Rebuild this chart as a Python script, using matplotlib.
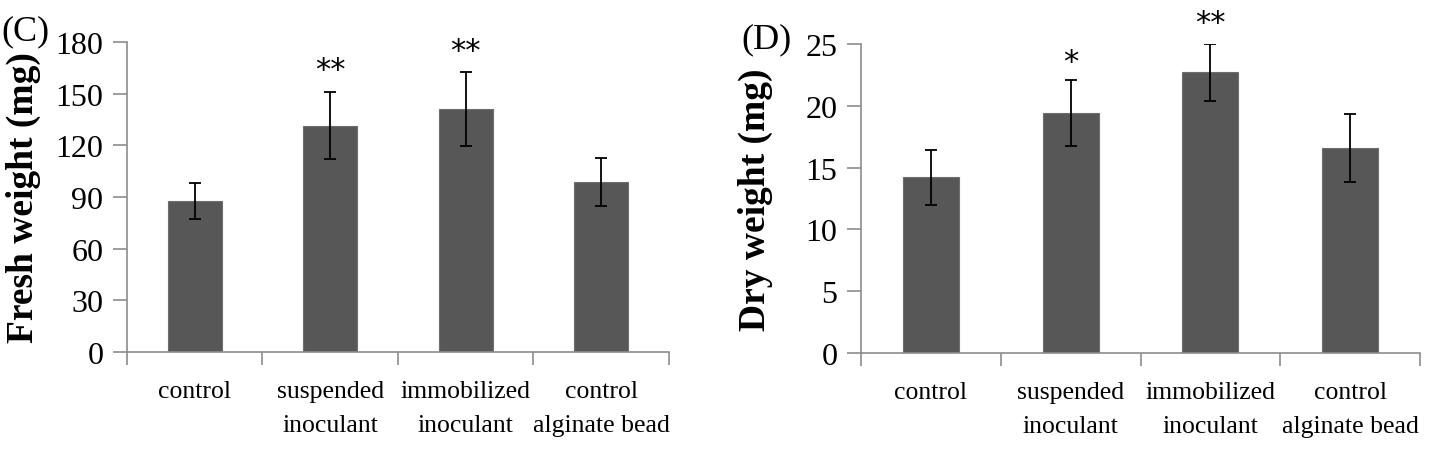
import matplotlib
matplotlib.use("Agg")
import matplotlib.pyplot as plt
import numpy as np

plt.rcParams['font.family'] = ['Liberation Serif', 'DejaVu Serif']

# treatments (same for both panels)
categories = ['control', 'suspended\ninoculant', 'immobilized\ninoculant',
              'control\nalginate bead']

# (C) fresh weight, mg
fresh_mean = [87.5, 131.5, 141.0, 98.5]
fresh_err = [10.5, 19.5, 21.5, 14.0]
fresh_sig = ['', '**', '**', '']
fresh_sig_y = [0, 164, 175, 0]

# (D) dry weight, mg
dry_mean = [14.2, 19.4, 22.7, 16.6]
dry_err = [2.25, 2.65, 2.3, 2.75]
dry_sig = ['', '*', '**', '']
dry_sig_y = [0, 23.6, 26.7, 0]

bar_color = '#575757'
spine_color = '#8c8c8c'


def panel(ax, means, errs, sig, sig_y, ymax, ystep, ylabel, tag, tag_x, tag_y):
    # Draws one bar panel.
    x = np.arange(len(means)) + 0.5
    ax.bar(x, means, width=0.4, color=bar_color, edgecolor='#6e6e6e', linewidth=0.8, zorder=2)
    ax.errorbar(x, means, yerr=errs, fmt='none', ecolor='black', elinewidth=1.3,
                capsize=4.5, capthick=1.3, zorder=3)
    for xi, s, yi in zip(x, sig, sig_y):
        if s:
            ax.text(xi, yi, s, ha='center', va='center', fontsize=22,
                    family=['DejaVu Sans'], clip_on=False)

    ax.set_xlim(0, len(means))
    ax.set_ylim(0, ymax)
    ax.set_yticks(np.arange(0, ymax + 0.01, ystep))
    ax.set_xticks(np.arange(len(means) + 1))
    ax.set_xticklabels([])
    ax.set_xticks(x, minor=True)
    ax.set_xticklabels(categories, minor=True, fontsize=18.5, linespacing=1.72)
    ax.tick_params(axis='x', which='major', length=9, color=spine_color, width=1.2)
    ax.tick_params(axis='x', which='minor', length=0, pad=20)
    ax.tick_params(axis='y', length=10, color=spine_color, width=1.2, labelsize=23, pad=7)

    for side in ['top', 'right']:
        ax.spines[side].set_visible(False)
    for side in ['left', 'bottom']:
        ax.spines[side].set_color(spine_color)
        ax.spines[side].set_linewidth(1.2)

    ax.set_ylabel(ylabel, fontsize=27, fontweight='bold')
    fig.text(tag_x, tag_y, tag, fontsize=26, ha='left', va='center')


fig = plt.figure(figsize=(14.31, 4.56), dpi=100)
ax1 = fig.add_axes([0.0887, 0.2259, 0.3788, 0.6798])
ax2 = fig.add_axes([0.6017, 0.2237, 0.3906, 0.6776])

panel(ax1, fresh_mean, fresh_err, fresh_sig, fresh_sig_y, 180, 30,
      'Fresh weight (mg)', '(C)', 0.001, 1 - 32 / 456)
panel(ax2, dry_mean, dry_err, dry_sig, dry_sig_y, 25, 5,
      'Dry weight (mg)', '(D)', 741 / 1431, 1 - 40 / 456)

ax1.yaxis.set_label_coords(-0.158, 0.5)
ax2.yaxis.set_label_coords(-0.158, 0.5)

fig.savefig('out.png', dpi=100)
